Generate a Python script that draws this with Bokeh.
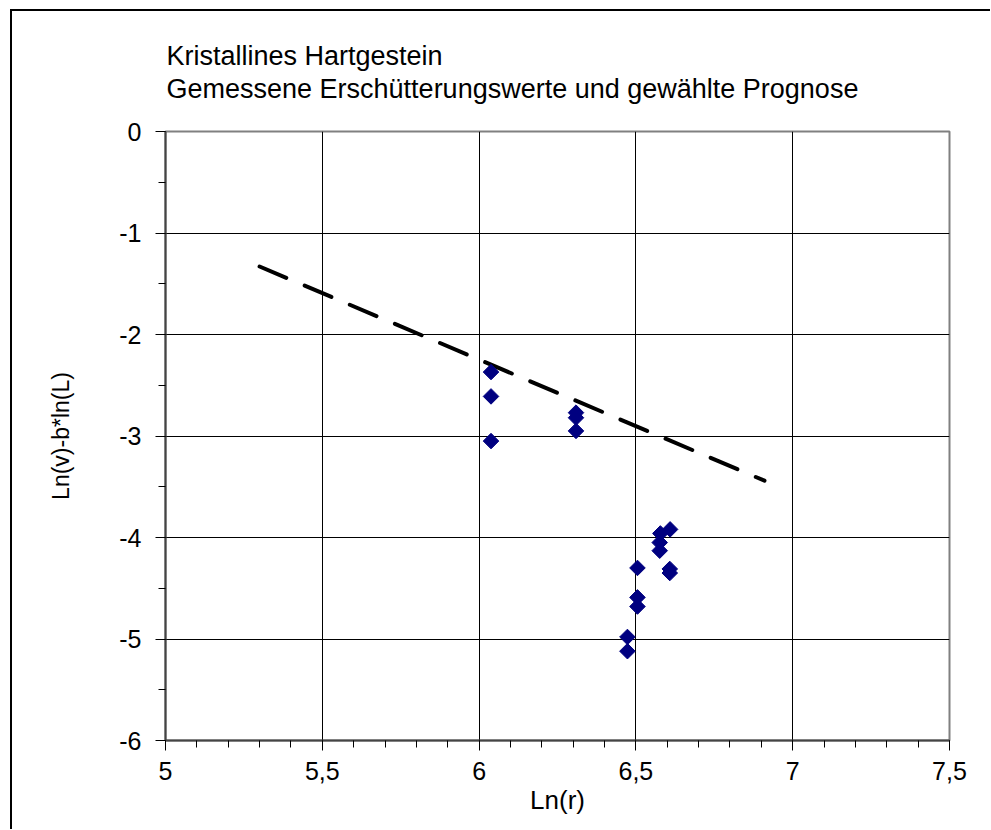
from bokeh.plotting import figure
from bokeh.models import (SingleIntervalTicker, CustomJSTickFormatter, Range1d)
from bokeh.embed import file_html
from bokeh.resources import INLINE

# ---- data ----
title_line1 = "Kristallines Hartgestein"
title_line2 = "Gemessene Erschütterungswerte und gewählte Prognose"
x_label = "Ln(r)"
y_label = "Ln(v)-b*ln(L)"

meas_x = [6.038, 6.038, 6.038,
          6.309, 6.309, 6.309,
          6.578, 6.576, 6.576,
          6.609, 6.608, 6.608,
          6.505, 6.505, 6.505,
          6.473, 6.473]
meas_y = [-2.37, -2.61, -3.05,
          -2.77, -2.82, -2.95,
          -3.96, -4.05, -4.13,
          -3.92, -4.31, -4.35,
          -4.30, -4.59, -4.68,
          -4.98, -5.12]

prog_x = [5.30, 6.91]
prog_y = [-1.33, -3.44]

x_range = (5.0, 7.5)
y_range = (-6.0, 0.0)

FONT = "Liberation Sans"

p = figure(output_backend="svg", toolbar_location=None,
           frame_width=784, frame_height=609,
           min_border_left=153, min_border_top=119,
           min_border_right=41, min_border_bottom=89,
           x_range=Range1d(*x_range), y_range=Range1d(*y_range),
           background_fill_color="white", border_fill_color="white")

# outer chart-area border (only left and top visible in the reference)
p.styles = {"border-left": "2px solid black", "border-top": "2px solid black",
            "margin-left": "10px", "margin-top": "9px"}

p.outline_line_color = "#808080"
p.outline_line_width = 2

# grids
p.xgrid.ticker = SingleIntervalTicker(interval=0.5)
p.ygrid.ticker = SingleIntervalTicker(interval=1)
for g in (p.xgrid, p.ygrid):
    g.grid_line_color = "black"
    g.grid_line_width = 1

fmt = CustomJSTickFormatter(code="return String(tick).replace('.', ',');")

xa = p.xaxis[0]
xa.ticker = SingleIntervalTicker(interval=0.5, num_minor_ticks=5)
ya = p.yaxis[0]
ya.ticker = SingleIntervalTicker(interval=1, num_minor_ticks=2)
for ax in (xa, ya):
    ax.formatter = fmt
    ax.axis_line_color = "#444444"
    ax.axis_line_width = 2
    ax.major_tick_line_color = "black"
    ax.minor_tick_line_color = "black"
    ax.major_tick_in = 0
    ax.major_tick_out = 10
    ax.minor_tick_in = 0
    ax.minor_tick_out = 7
    ax.major_label_text_font = FONT
    ax.major_label_text_font_size = "25px"
    ax.major_label_text_color = "black"
    ax.axis_label_text_font = FONT
    ax.axis_label_text_font_style = "normal"
    ax.axis_label_text_color = "black"
xa.major_label_standoff = 11
ya.major_label_standoff = 14
xa.axis_label = x_label
ya.axis_label = y_label
xa.axis_label_text_font_size = "26px"
ya.axis_label_text_font_size = "23px"
xa.axis_label_standoff = 2
ya.axis_label_standoff = 42

# prognosis line
p.line(prog_x, prog_y, line_color="black", line_width=4,
       line_dash="29 20", line_cap="round")

# measured points (diamonds)
p.scatter(meas_x, meas_y, marker="square", angle=0.7853981634,
          size=11, fill_color="#000080", line_color="#000080")

# two-line title
p.title.text = title_line1 + "\n" + title_line2
p.title.text_font = FONT
p.title.text_font_size = "27px"
p.title.text_font_style = "normal"
p.title.text_color = "black"
p.title.text_line_height = 1.12
p.title.align = "left"
p.title.offset = 1
p.title.standoff = 54

open("out.html", "w").write(file_html(p, INLINE))
